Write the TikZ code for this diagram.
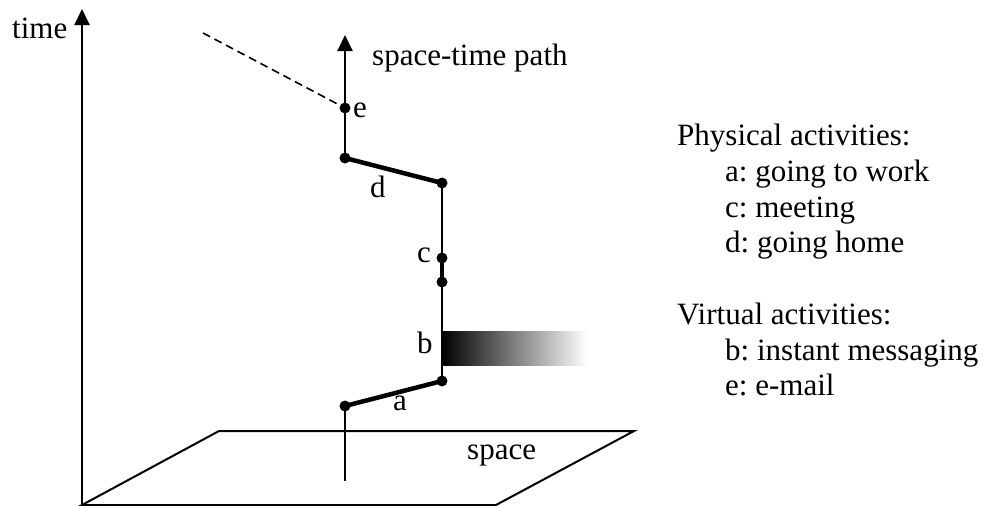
\documentclass[tikz,border=0pt]{standalone}
\usepackage{fontspec}
\setmainfont{Liberation Serif}
\usetikzlibrary{arrows.meta}
\frenchspacing
\begin{document}
\begin{tikzpicture}[x=1pt,y=-1pt,
  thin line/.style={line width=2pt},
  thick seg/.style={line width=4.5pt},
  dot/.style={circle,fill=black,inner sep=0pt,minimum size=11pt},
  txt/.style={anchor=base west,inner sep=0pt,font=\fontsize{31}{36}\selectfont},
  arr/.style={-{Triangle[width=15pt,length=16pt]}}]
\useasboundingbox (0,0) rectangle (989,506);
% axes and plane
\coordinate (o) at (82,505);
\coordinate (ttop) at (82,9);
\draw[thin line,arr] (o) -- (ttop);
\coordinate (p2) at (219,431);
\coordinate (p3) at (634,431);
\coordinate (p4) at (496,505);
\draw[thin line,line join=miter] (o) -- (p2) -- (p3) -- (p4) -- cycle;
% virtual shading
\shade[left color=black,right color=white] (442,331) rectangle (587,365);
% path points
\coordinate (base) at (345,481);
\node[dot] (a1) at (345,406) {};
\node[dot] (a2) at (442,381) {};
\node[dot] (c1) at (442,282) {};
\node[dot] (c2) at (442,258) {};
\node[dot] (d1) at (442,183) {};
\node[dot] (d2) at (345,158) {};
\node[dot] (e) at (345,108) {};
\coordinate (ptop) at (345,35);
\coordinate (mail) at (203,33);
\draw[thin line] (base) -- (a1.center);
\draw[thick seg] (a1.center) -- (a2.center);
\draw[thin line] (a2.center) -- (c1.center);
\draw[thick seg] (c1.center) -- (c2.center);
\draw[thin line] (c2.center) -- (d1.center);
\draw[thick seg] (d1.center) -- (d2.center);
\draw[thin line,arr] (d2.center) -- (ptop);
\draw[line width=1.6pt,dash pattern=on 8pt off 5pt] (mail) -- (e.center);
% labels
\node[txt] (lt) at (12,38) {time};
\node[txt] (lp) at (372,65) {space-time path};
\node[txt] (le) at (353,117) {e};
\node[txt] (ld) at (370,197) {d};
\node[txt] (lc) at (417,262) {c};
\node[txt] (lb) at (417,353) {b};
\node[txt] (la) at (393,410) {a};
\node[txt] (ls) at (467,459) {space};
% legend
\node[txt] (g1) at (677,145) {Physical activities:};
\node[txt] (g2) at (725,181) {a: going to work};
\node[txt] (g3) at (725,217) {c: meeting};
\node[txt] (g4) at (725,252) {d: going home};
\node[txt] (g5) at (677,324) {Virtual activities:};
\node[txt] (g6) at (725,360) {b: instant messaging};
\node[txt] (g7) at (725,395) {e: e-mail};
\end{tikzpicture}
\end{document}
